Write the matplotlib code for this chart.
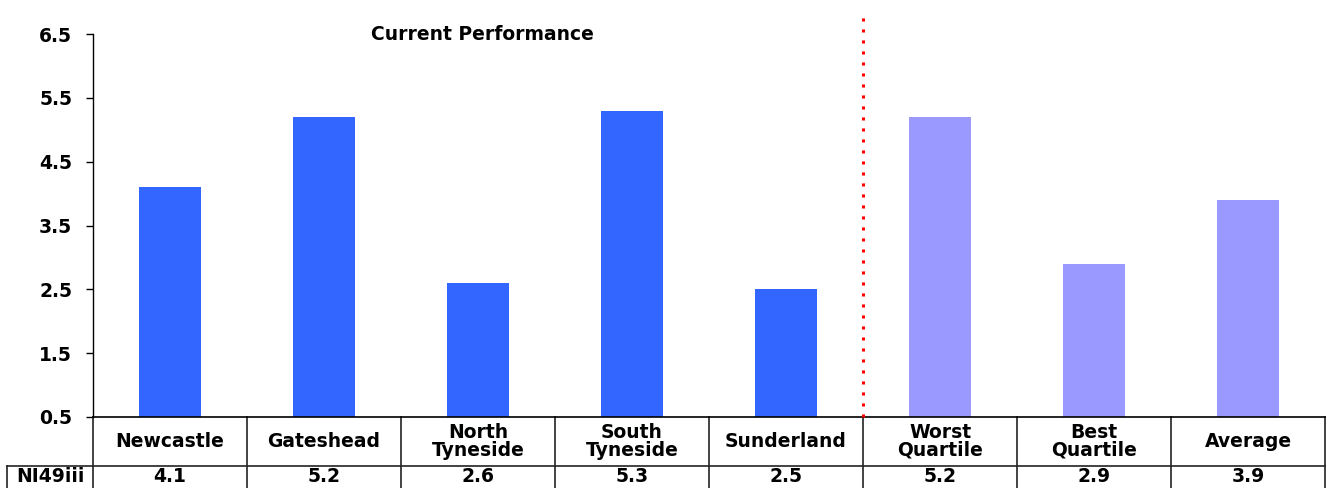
import matplotlib
matplotlib.use("Agg")
import matplotlib.pyplot as plt
from matplotlib.lines import Line2D

plt.rcParams['font.family'] = ['DejaVu Sans']
plt.rcParams['font.weight'] = 'bold'

categories = ["Newcastle", "Gateshead", "North\nTyneside", "South\nTyneside",
              "Sunderland", "Worst\nQuartile", "Best\nQuartile", "Average"]
values = [4.1, 5.2, 2.6, 5.3, 2.5, 5.2, 2.9, 3.9]
value_labels = ["4.1", "5.2", "2.6", "5.3", "2.5", "5.2", "2.9", "3.9"]
row_label = "NI49iii"
yticks = [0.5, 1.5, 2.5, 3.5, 4.5, 5.5, 6.5]
title = "Current Performance"

W, H = 1335, 488
fig = plt.figure(figsize=(W / 100, H / 100), dpi=100)
ax = fig.add_axes([93 / W, 1 - 417 / H, (1325 - 93) / W, (417 - 34) / H])

n = len(categories)
x = list(range(n))
colors = ["#3366FF"] * 5 + ["#9999FF"] * 3
ax.bar(x, [v - 0.5 for v in values], bottom=0.5, width=0.4, color=colors, zorder=2)

fs = 13.5
ax.set_xlim(-0.5, n - 0.5)
ax.set_ylim(0.5, 6.5)
ax.set_yticks(yticks)
ax.set_yticklabels([f"{t:.1f}" for t in yticks], fontsize=fs, fontweight='bold')
ax.tick_params(axis='y', direction='out', length=5, width=1, pad=10)
ax.tick_params(axis='x', length=0, labelbottom=False)
for s in ['top', 'right']:
    ax.spines[s].set_visible(False)
ax.spines['left'].set_linewidth(1)
ax.spines['bottom'].set_linewidth(1.2)

ax.text(2.03, 6.5, title, ha='center', va='center', fontsize=fs, fontweight='bold')

# Divider between authorities and benchmark values
ax.plot([4.5, 4.5], [0.5, 6.5 + 20 / 63.83], color='red', linestyle=(0, (1, 2.6)),
        linewidth=2.2, clip_on=False, zorder=3)

# Data table below the axis
tr = ax.get_xaxis_transform()
row1_bot = -49 / 383
row2_bot = -100 / 383
first_left = (7 - 93) / 1232 * n - 0.5
lc = "#222222"
for xb in [i - 0.5 for i in range(n + 1)]:
    ax.add_line(Line2D([xb, xb], [0, row2_bot], transform=tr, color=lc, lw=1.2, clip_on=False))
ax.add_line(Line2D([first_left, n - 0.5], [row1_bot, row1_bot], transform=tr, color=lc, lw=1.2, clip_on=False))
ax.add_line(Line2D([first_left, first_left], [row1_bot, row2_bot], transform=tr, color=lc, lw=1.2, clip_on=False))

row2_y = -60 / 383
for i, (c, v) in enumerate(zip(categories, value_labels)):
    ax.text(i, row1_bot / 2, c, transform=tr, ha='center', va='center', fontsize=fs,
            fontweight='bold', linespacing=0.92)
    ax.text(i, row2_y, v, transform=tr, ha='center', va='center', fontsize=fs,
            fontweight='bold')
ax.text((first_left - 0.5) / 2, row2_y, row_label, transform=tr, ha='center', va='center',
        fontsize=fs, fontweight='bold')

fig.savefig("out.png", dpi=100)
